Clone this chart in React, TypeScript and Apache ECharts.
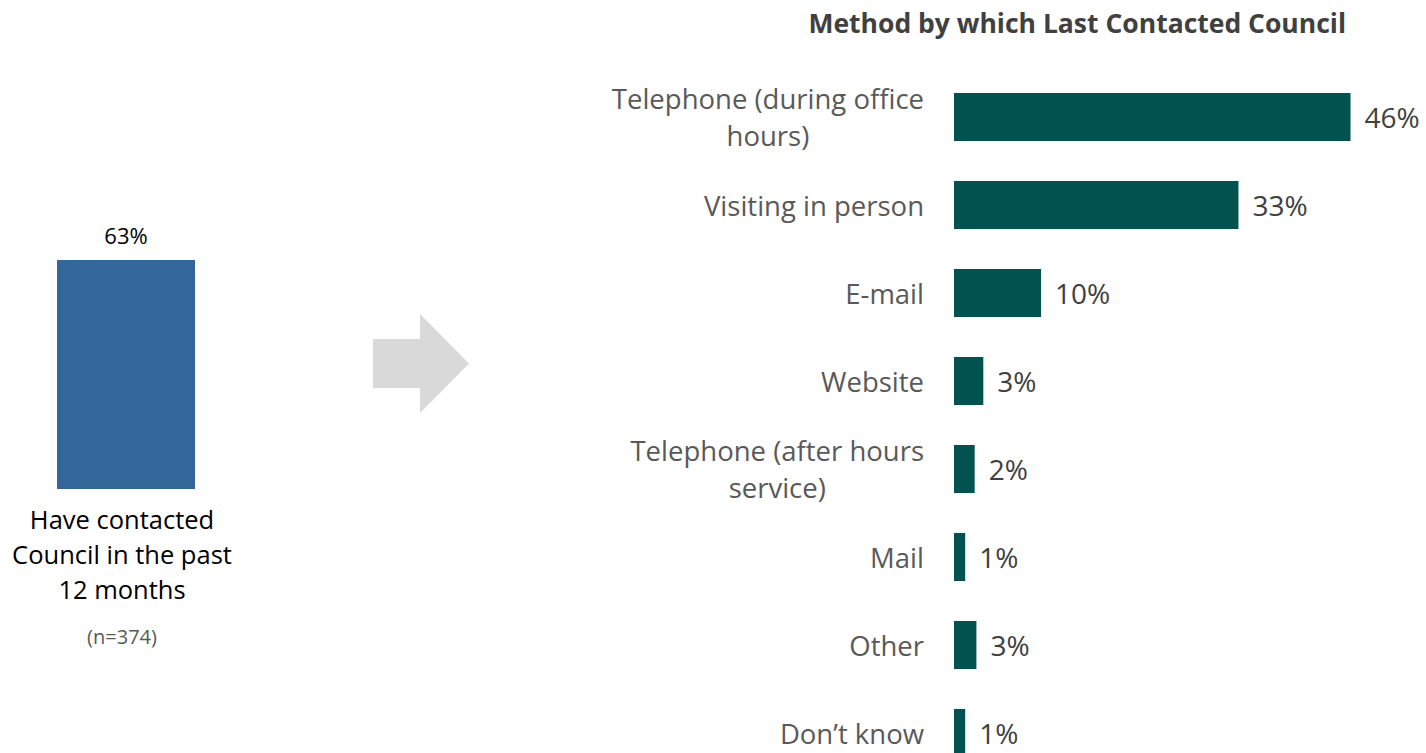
import React, { useEffect, useRef } from "react";
import * as echarts from "echarts";

const leftCategories = ["Have contacted\nCouncil in the past\n12 months"];
const leftValues = [63];
const sampleNote = "(n=374)";

const methodCategories = [
  "Telephone (during office\nhours)",
  "Visiting in person",
  "E-mail",
  "Website",
  "Telephone (after hours\nservice)",
  "Mail",
  "Other",
  "Don’t know",
];
const methodValues = [46, 33, 10.1, 3.4, 2.4, 1.3, 2.6, 1.3];
const chartTitle = "Method by which Last Contacted Council";

const FONT = "'Open Sans', 'Noto Sans', sans-serif";

export default function App() {
  const ref = useRef<HTMLDivElement>(null);
  useEffect(() => {
    document.body.style.margin = "0";
    const chart = echarts.init(ref.current!, undefined, { renderer: "svg" });
    chart.setOption({
      animation: false,
      textStyle: { fontFamily: FONT },
      title: {
        text: chartTitle,
        right: 75,
        top: 4,
        textStyle: { fontSize: 26.5, fontWeight: "bold", color: "#404040", fontFamily: FONT },
      },
      grid: [
        { left: 57, top: 125.5, width: 138, height: 363.5 },
        { left: 954, top: 117, width: 431, height: 616 },
      ],
      xAxis: [
        {
          gridIndex: 0,
          type: "category",
          data: leftCategories,
          axisLine: { show: false },
          axisTick: { show: false },
          axisLabel: {
            margin: 12,
            interval: 0,
            padding: [0, 8, 0, 0],
            formatter: (v: string) =>
              v.split("\n").map((l) => `{a|${l}}`).join("\n") + `\n{n|${sampleNote}}`,
            rich: {
              a: { fontSize: 25.5, lineHeight: 35, color: "#000000", fontFamily: FONT, align: "center" },
              n: { fontSize: 20, lineHeight: 60, color: "#595959", fontFamily: FONT, align: "center" },
            },
          },
        },
        {
          gridIndex: 1,
          type: "value",
          min: 0,
          max: 50,
          show: false,
        },
      ],
      yAxis: [
        { gridIndex: 0, type: "value", min: 0, max: 100, show: false },
        {
          gridIndex: 1,
          type: "category",
          inverse: true,
          boundaryGap: false,
          data: methodCategories,
          axisLine: { show: false },
          axisTick: { show: false },
          axisLabel: {
            margin: 30,
            interval: 0,
            align: "right",
            formatter: (v: string) => v.split("\n").map((l) => `{a|${l}}`).join("\n"),
            rich: {
              a: { fontSize: 27.5, lineHeight: 37, color: "#595959", fontFamily: FONT, align: "center" },
            },
          },
        },
      ],
      series: [
        {
          type: "bar",
          xAxisIndex: 0,
          yAxisIndex: 0,
          data: leftValues,
          barWidth: 138,
          itemStyle: { color: "#336699" },
          label: {
            show: true,
            position: "top",
            distance: 14,
            formatter: (p: any) => `${Math.round(p.value)}%`,
            fontSize: 22,
            color: "#000000",
            fontFamily: FONT,
          },
        },
        {
          type: "bar",
          xAxisIndex: 1,
          yAxisIndex: 1,
          data: methodValues,
          barWidth: 48,
          itemStyle: { color: "#02524F" },
          label: {
            show: true,
            position: "right",
            distance: 14,
            formatter: (p: any) => `${Math.round(p.value)}%`,
            fontSize: 28,
            color: "#404040",
            fontFamily: FONT,
          },
        },
      ],
      graphic: [
        {
          type: "polygon",
          shape: {
            points: [
              [373, 339],
              [420, 339],
              [420, 314],
              [469, 363.5],
              [420, 413],
              [420, 388],
              [373, 388],
            ],
          },
          style: { fill: "#D9D9D9" },
        },
      ],
    });
    return () => chart.dispose();
  }, []);
  return <div ref={ref} style={{ width: 1426, height: 753 }} />;
}
